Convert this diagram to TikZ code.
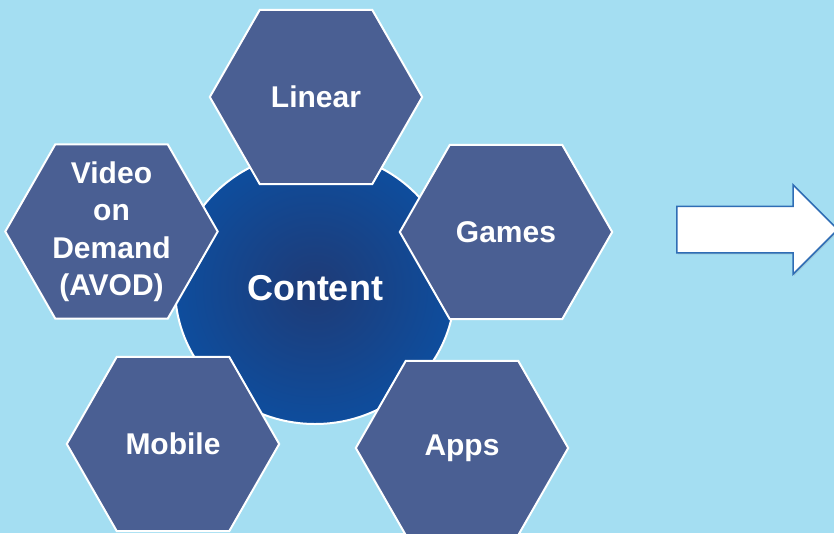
\documentclass[tikz,border=0pt]{standalone}
\usepackage{fontspec}
\setmainfont{Liberation Sans}
\usepackage{tikz}
\usetikzlibrary{shapes.geometric,shapes.arrows,shadows}

\definecolor{skyback}{HTML}{A4DEF2}
\definecolor{hexblue}{HTML}{4A5F93}
\definecolor{coredark}{HTML}{1F3B76}
\definecolor{coreedge}{HTML}{0E4D9D}
\definecolor{arrowline}{HTML}{2F6DB5}

\pgfdeclarelayer{bottom}
\pgfdeclarelayer{back}
\pgfsetlayers{bottom,back,main}

\tikzset{
% hexagon text holder, its outline is drawn behind it
hexa/.style={rectangle, inner sep=0, minimum width=212pt, minimum height=174pt,
  text=white, align=center, font=\bfseries\fontsize{30}{37.5}\selectfont},
hexline/.style={draw=white, line width=2pt, fill=hexblue}
}
\newcommand{\hexoutline}[1]{%
  \begin{pgfonlayer}{back}
    \draw[hexline] (#1.west) -- ([xshift=50pt]#1.north west) -- ([xshift=-50pt]#1.north east)
      -- (#1.east) -- ([xshift=-50pt]#1.south east) -- ([xshift=50pt]#1.south west) -- cycle;
  \end{pgfonlayer}}

\begin{document}
\begin{tikzpicture}[x=1pt, y=-1pt]
  \useasboundingbox (0,0) rectangle (834,533);
  \begin{pgfonlayer}{bottom}
    \fill[skyback] (0,0) rectangle (834,533);
    \node[ellipse, draw=white, line width=2pt,
      inner color=coredark, outer color=coreedge,
      minimum width=280pt,
      minimum height=272pt,
      text=white, font=\bfseries\fontsize{36}{43}\selectfont] (content) at (315,288) {Content};
  \end{pgfonlayer}

  \node[hexa] (linear) at (316,97) {Linear};
  \hexoutline{linear}
  \node[hexa] (avod) at (111.5,231.5) {Video\\on\\Demand\\(AVOD)};
  \hexoutline{avod}
  \node[hexa] (games) at (506,232) {Games};
  \hexoutline{games}
  \node[hexa] (mobile) at (173,444) {Mobile};
  \hexoutline{mobile}
  \node[hexa] (apps) at (462,448) {Apps};
  \hexoutline{apps}

  % block arrow on the right
  \node[single arrow, draw=arrowline, fill=white, line width=1.5pt,
    inner sep=0, inner ysep=22.5pt,
    single arrow head extend=21.5pt,
    single arrow head indent=0pt,
    minimum height=161pt,
    anchor=tail,
    drop shadow={opacity=0.25, shadow xshift=1pt, shadow yshift=-1.5pt}] (next) at (676,229.5) {};
\end{tikzpicture}
\end{document}
